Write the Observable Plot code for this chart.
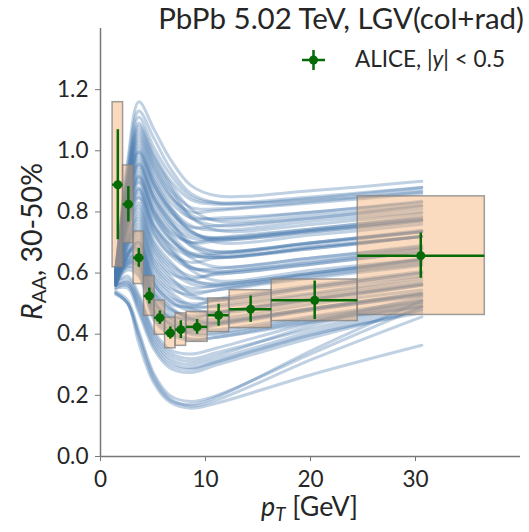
<!DOCTYPE html>
<html><head><meta charset="utf-8">
<script src="https://cdn.jsdelivr.net/npm/d3@7"></script>
<script src="https://cdn.jsdelivr.net/npm/@observablehq/plot@0.6"></script>
<style>body{margin:0;background:#fff;} svg{font-family:Lato,sans-serif;}</style>
</head><body><div id="chart"></div>
<script>
const knotsPt = [1.45, 2.6, 3.65, 5.1, 6.6, 8.6, 11.1, 20.3, 30.6];

// model curves (RAA at the knots) – main band
const mainBand = [
  [0.60,0.97,1.16,1.07,0.975,0.887,0.853,0.87,0.90],
  [0.61,0.93,1.11,1.01,0.925,0.85,0.83,0.85,0.88],
  [0.59,0.91,1.08,0.98,0.895,0.81,0.77,0.79,0.82],
  [0.60,0.90,1.06,0.96,0.875,0.815,0.81,0.835,0.865],
  [0.58,0.88,1.04,0.94,0.855,0.78,0.755,0.78,0.81],
  [0.61,0.89,1.03,0.93,0.85,0.80,0.805,0.83,0.86],
  [0.59,0.86,1.01,0.905,0.82,0.74,0.70,0.725,0.76],
  [0.60,0.87,1.00,0.895,0.815,0.755,0.74,0.77,0.80],
  [0.57,0.85,0.99,0.885,0.805,0.735,0.715,0.74,0.775],
  [0.60,0.85,0.98,0.875,0.80,0.75,0.755,0.78,0.82],
  [0.58,0.83,0.96,0.85,0.775,0.70,0.67,0.70,0.735],
  [0.61,0.84,0.95,0.84,0.765,0.715,0.71,0.74,0.775],
  [0.59,0.82,0.94,0.83,0.755,0.69,0.67,0.70,0.74],
  [0.57,0.80,0.92,0.805,0.735,0.70,0.715,0.745,0.785],
  [0.60,0.81,0.91,0.795,0.72,0.65,0.62,0.65,0.685],
  [0.58,0.79,0.90,0.785,0.715,0.66,0.65,0.68,0.72],
  [0.60,0.79,0.88,0.76,0.695,0.655,0.66,0.695,0.735],
  [0.56,0.77,0.87,0.75,0.68,0.61,0.575,0.61,0.645],
  [0.59,0.77,0.86,0.74,0.675,0.62,0.605,0.64,0.68],
  [0.61,0.78,0.85,0.73,0.665,0.635,0.65,0.68,0.72],
  [0.57,0.75,0.83,0.705,0.64,0.58,0.56,0.60,0.64],
  [0.60,0.75,0.82,0.695,0.63,0.59,0.595,0.63,0.67],
  [0.58,0.73,0.80,0.675,0.61,0.565,0.555,0.595,0.635],
  [0.56,0.71,0.79,0.665,0.60,0.58,0.60,0.635,0.68],
  [0.60,0.72,0.78,0.65,0.59,0.53,0.51,0.55,0.59],
  [0.58,0.70,0.76,0.63,0.57,0.54,0.545,0.585,0.625],
  [0.57,0.69,0.75,0.62,0.56,0.52,0.515,0.555,0.60],
  [0.61,0.70,0.74,0.61,0.55,0.53,0.545,0.59,0.63],
  [0.58,0.68,0.72,0.585,0.53,0.485,0.47,0.51,0.56],
  [0.56,0.66,0.71,0.575,0.52,0.50,0.51,0.555,0.60],
  [0.59,0.67,0.70,0.565,0.51,0.475,0.475,0.515,0.565],
  [0.57,0.66,0.69,0.555,0.50,0.49,0.515,0.56,0.605],
  [0.60,0.67,0.68,0.54,0.49,0.45,0.435,0.48,0.53],
  [0.58,0.65,0.67,0.53,0.48,0.46,0.47,0.515,0.56],
  [0.56,0.64,0.66,0.52,0.47,0.44,0.44,0.485,0.535],
  [0.59,0.65,0.65,0.51,0.46,0.45,0.47,0.52,0.565],
  [0.57,0.63,0.64,0.50,0.45,0.415,0.415,0.46,0.51],
  [0.60,0.64,0.63,0.49,0.44,0.42,0.435,0.485,0.53],
  [0.58,0.63,0.62,0.475,0.43,0.405,0.405,0.455,0.505],
  [0.56,0.62,0.61,0.465,0.42,0.41,0.43,0.48,0.525],
  [0.59,0.62,0.60,0.455,0.41,0.385,0.39,0.44,0.49],
  [0.57,0.61,0.59,0.445,0.40,0.38,0.39,0.445,0.49]
];
// model curves – more of the main band
const mainBand2 = [
  [0.60,0.95,1.13,1.04,0.945,0.86,0.83,0.84,0.87],
  [0.59,0.92,1.09,0.99,0.905,0.84,0.825,0.845,0.88],
  [0.61,0.91,1.07,0.97,0.885,0.785,0.74,0.76,0.795],
  [0.58,0.89,1.05,0.95,0.865,0.79,0.775,0.80,0.83],
  [0.60,0.87,1.02,0.915,0.835,0.78,0.78,0.80,0.835],
  [0.57,0.86,0.995,0.89,0.81,0.735,0.71,0.735,0.77],
  [0.59,0.84,0.97,0.86,0.785,0.725,0.715,0.745,0.78],
  [0.60,0.83,0.955,0.845,0.77,0.69,0.655,0.685,0.72],
  [0.58,0.81,0.93,0.815,0.745,0.70,0.705,0.735,0.77],
  [0.56,0.80,0.915,0.80,0.73,0.665,0.65,0.685,0.72],
  [0.61,0.80,0.895,0.78,0.71,0.665,0.665,0.70,0.735],
  [0.58,0.78,0.875,0.755,0.69,0.62,0.60,0.63,0.67],
  [0.59,0.76,0.845,0.725,0.66,0.615,0.615,0.65,0.69],
  [0.57,0.74,0.81,0.685,0.62,0.575,0.565,0.60,0.645],
  [0.60,0.71,0.77,0.64,0.58,0.55,0.56,0.60,0.645],
  [0.58,0.69,0.73,0.595,0.54,0.495,0.49,0.53,0.575],
  [0.56,0.66,0.70,0.565,0.51,0.485,0.495,0.535,0.585],
  [0.59,0.66,0.675,0.535,0.485,0.45,0.45,0.50,0.545],
  [0.57,0.64,0.645,0.505,0.455,0.43,0.44,0.485,0.535],
  [0.59,0.63,0.625,0.48,0.435,0.40,0.40,0.45,0.50]
];
// model curves – low group
const lowBand = [
  [0.57,0.58,0.52,0.40,0.34,0.32,0.34,0.42,0.50],
  [0.56,0.57,0.50,0.38,0.32,0.30,0.32,0.41,0.49],
  [0.56,0.56,0.49,0.37,0.31,0.29,0.31,0.40,0.48],
  [0.55,0.55,0.47,0.35,0.29,0.275,0.30,0.39,0.48],
  [0.57,0.59,0.53,0.41,0.35,0.335,0.355,0.44,0.52],
  [0.56,0.57,0.51,0.39,0.33,0.31,0.33,0.43,0.51],
  [0.55,0.56,0.48,0.36,0.30,0.285,0.31,0.40,0.47]
];
// model curves – lowest group
const lowestBand = [
  [0.535,0.50,0.37,0.24,0.178,0.158,0.175,0.27,0.364],
  [0.535,0.50,0.40,0.26,0.19,0.165,0.185,0.32,0.457],
  [0.54,0.51,0.41,0.27,0.20,0.18,0.20,0.34,0.49],
  [0.53,0.50,0.39,0.25,0.185,0.17,0.195,0.35,0.51]
];

// ALICE D0 data, 30-50%
const alicePt   = [1.65, 2.65, 3.65, 4.65, 5.65, 6.65, 7.65, 9.2, 11.25, 14.3, 20.4, 30.5];
const aliceLo   = [1.15, 2.15, 3.15, 4.15, 5.15, 6.15, 7.15, 8.2, 10.25, 12.3, 16.3, 24.5];
const aliceHi   = [2.15, 3.15, 4.15, 5.15, 6.15, 7.15, 8.15, 10.2, 12.25, 16.3, 24.5, 36.6];
const aliceRaa  = [0.889, 0.825, 0.650, 0.525, 0.454, 0.404, 0.415, 0.424, 0.462, 0.482, 0.511, 0.657];
const aliceStat = [0.180, 0.058, 0.031, 0.026, 0.022, 0.020, 0.029, 0.024, 0.036, 0.043, 0.063, 0.074];
const aliceSys  = [0.270, 0.127, 0.086, 0.065, 0.056, 0.050, 0.053, 0.049, 0.055, 0.062, 0.068, 0.194];

const xTicks = [0, 10, 20, 30];
const yTicks = [0.0, 0.2, 0.4, 0.6, 0.8, 1.0, 1.2];

const curveRows = [];
[...mainBand, ...mainBand2, ...lowBand, ...lowestBand].forEach((vals, i) =>
  vals.forEach((v, j) => curveRows.push({id: i, pt: knotsPt[j], raa: v})));
const alice = alicePt.map((pt, i) => ({pt, raa: aliceRaa[i], stat: aliceStat[i], sys: aliceSys[i], lo: aliceLo[i], hi: aliceHi[i]}));

const GREEN = "#066b06";
const AXIS = "#777";
const INK = "#262626";

// measure a string in Lato to size the tick labels like the reference
function measure(str, size) {
  const s = d3.select("body").append("svg").attr("width", 10).attr("height", 10);
  const t = s.append("text").attr("font-family", "Lato").attr("font-size", size).text(str);
  const w = t.node().getComputedTextLength();
  s.remove();
  return w;
}
const tickFont = Math.max(16, Math.min(28, 20 * 31.5 / measure("0.8", 20)));

const plot = Plot.plot({
  width: 529, height: 532,
  marginLeft: 100, marginRight: 9, marginTop: 28, marginBottom: 76,
  style: {fontFamily: "Lato", fontSize: tickFont + "px", color: INK, background: "#fff", overflow: "visible"},
  x: {domain: [0, 40]},
  y: {domain: [0, 1.4]},
  marks: [
    Plot.line(curveRows, {x: "pt", y: "raa", z: "id", stroke: "#4a7bb0", strokeOpacity: 0.35, strokeWidth: 3, curve: "catmull-rom"}),
    Plot.rect(alice, {x1: "lo", x2: "hi", y1: d => d.raa - d.sys, y2: d => d.raa + d.sys, fill: "#f4a460", fillOpacity: 0.4, stroke: "#808080", strokeOpacity: 0.75, strokeWidth: 1.5}),
    Plot.ruleY(alice, {y: "raa", x1: "lo", x2: "hi", stroke: GREEN, strokeWidth: 2.5}),
    Plot.ruleX(alice, {x: "pt", y1: d => d.raa - d.stat, y2: d => d.raa + d.stat, stroke: GREEN, strokeWidth: 2.5}),
    Plot.dot(alice, {x: "pt", y: "raa", r: 4.5, fill: GREEN}),
    Plot.axisX({ticks: xTicks, tickSize: 5, tickPadding: 9, stroke: AXIS, label: null}),
    Plot.axisY({ticks: yTicks, tickSize: 5, tickPadding: 7, tickFormat: d3.format(".1f"), stroke: AXIS, label: null}),
    Plot.ruleX([0], {stroke: AXIS, strokeWidth: 1.5}),
    Plot.ruleY([0], {stroke: AXIS, strokeWidth: 1.5})
  ]
});
document.getElementById("chart").appendChild(plot);

const svg = d3.select(plot);
// scale a text element so that its advance width matches the reference
function fitWidth(sel, target) {
  const base = 20;
  sel.style("font-size", base + "px");
  const w = sel.node().getComputedTextLength();
  if (w > 0) sel.style("font-size", (base * target / w) + "px");
}
// title
const title = svg.append("text").attr("x", 524).attr("y", 28.5).attr("text-anchor", "end")
  .attr("fill", INK).text("PbPb 5.02 TeV, LGV(col+rad)");
fitWidth(title, 366);
// legend
const lg = svg.append("g");
lg.append("line").attr("x1", 302).attr("x2", 325).attr("y1", 60).attr("y2", 60).attr("stroke", GREEN).attr("stroke-width", 2.5);
lg.append("line").attr("x1", 313.5).attr("x2", 313.5).attr("y1", 50).attr("y2", 70).attr("stroke", GREEN).attr("stroke-width", 2.5);
lg.append("circle").attr("cx", 313.5).attr("cy", 60).attr("r", 4.5).attr("fill", GREEN);
const lt = lg.append("text").attr("x", 355).attr("y", 66.7).attr("text-anchor", "start").attr("fill", INK);
lt.append("tspan").text("ALICE, |");
lt.append("tspan").attr("font-style", "italic").text("y");
lt.append("tspan").text("| < 0.5");
fitWidth(lt, 150);
// y label
const yl = svg.append("text").attr("transform", "translate(42,241.5) rotate(-90)")
  .attr("text-anchor", "middle").attr("fill", INK);
yl.append("tspan").attr("font-style", "italic").text("R");
yl.append("tspan").style("font-size", "0.7em").attr("dy", "0.22em").text("AA");
yl.append("tspan").attr("dy", "-0.154em").text(", 30-50%");
fitWidth(yl, 157);
// x label
const xl = svg.append("text").attr("x", 309.5).attr("y", 516)
  .attr("text-anchor", "middle").attr("fill", INK);
xl.append("tspan").attr("font-style", "italic").text("p");
xl.append("tspan").attr("font-style", "italic").style("font-size", "0.7em").attr("dy", "0.25em").text("T");
xl.append("tspan").attr("dy", "-0.175em").text(" [GeV]");
fitWidth(xl, 97);
</script>
</body></html>
